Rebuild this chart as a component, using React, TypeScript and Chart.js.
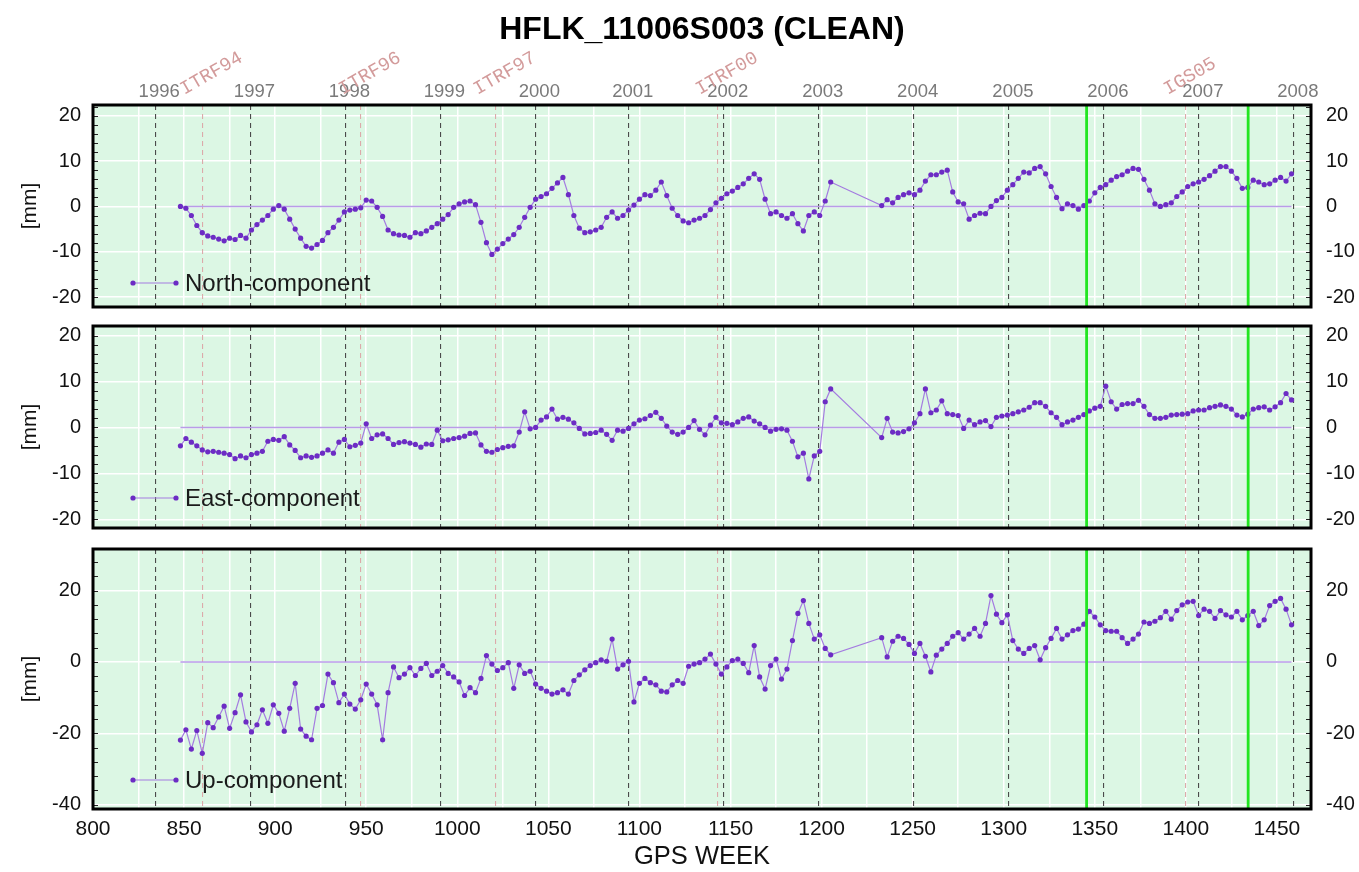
import React, { useEffect, useRef } from 'react';
import { Chart, registerables } from 'chart.js';

Chart.register(...registerables);

// ---------------- data ----------------
const WEEKS = [
  848, 851, 854, 857, 860, 863, 866, 869, 872, 875,
  878, 881, 884, 887, 890, 893, 896, 899, 902, 905,
  908, 911, 914, 917, 920, 923, 926, 929, 932, 935,
  938, 941, 944, 947, 950, 953, 956, 959, 962, 965,
  968, 971, 974, 977, 980, 983, 986, 989, 992, 995,
  998, 1001, 1004, 1007, 1010, 1013, 1016, 1019, 1022, 1025,
  1028, 1031, 1034, 1037, 1040, 1043, 1046, 1049, 1052, 1055,
  1058, 1061, 1064, 1067, 1070, 1073, 1076, 1079, 1082, 1085,
  1088, 1091, 1094, 1097, 1100, 1103, 1106, 1109, 1112, 1115,
  1118, 1121, 1124, 1127, 1130, 1133, 1136, 1139, 1142, 1145,
  1148, 1151, 1154, 1157, 1160, 1163, 1166, 1169, 1172, 1175,
  1178, 1181, 1184, 1187, 1190, 1193, 1196, 1199, 1202, 1205,
  1233, 1236, 1239, 1242, 1245, 1248, 1251, 1254, 1257, 1260,
  1263, 1266, 1269, 1272, 1275, 1278, 1281, 1284, 1287, 1290,
  1293, 1296, 1299, 1302, 1305, 1308, 1311, 1314, 1317, 1320,
  1323, 1326, 1329, 1332, 1335, 1338, 1341, 1344, 1347, 1350,
  1353, 1356, 1359, 1362, 1365, 1368, 1371, 1374, 1377, 1380,
  1383, 1386, 1389, 1392, 1395, 1398, 1401, 1404, 1407, 1410,
  1413, 1416, 1419, 1422, 1425, 1428, 1431, 1434, 1437, 1440,
  1443, 1446, 1449, 1452, 1455, 1458,
];

const NORTH = [
  0.0, -0.4, -2.0, -4.2, -5.8, -6.5, -6.8, -7.2, -7.6, -7.0,
  -7.3, -6.4, -7.0, -5.2, -4.0, -3.0, -2.0, -0.6, 0.2, -0.6,
  -2.8, -5.0, -7.0, -8.8, -9.2, -8.4, -7.5, -5.8, -4.6, -3.0,
  -1.2, -0.8, -0.6, -0.3, 1.4, 1.2, -0.2, -2.2, -5.2, -6.0,
  -6.3, -6.4, -6.8, -5.8, -6.0, -5.4, -4.6, -3.8, -2.8, -1.8,
  -0.2, 0.6, 1.0, 1.2, 0.4, -3.5, -8.0, -10.6, -9.4, -8.2,
  -7.2, -6.2, -4.6, -2.4, -0.2, 1.6, 2.2, 2.8, 4.0, 5.2,
  6.4, 2.6, -2.0, -4.8, -5.8, -5.6, -5.2, -4.6, -2.4, -1.2,
  -2.6, -2.0, -0.8, 0.3, 1.6, 2.6, 2.4, 3.6, 5.4, 2.4,
  -0.4, -2.0, -3.2, -3.6, -3.0, -2.6, -2.0, -0.7, 0.8, 1.8,
  2.8, 3.4, 4.2, 5.0, 6.2, 7.2, 6.0, 1.6, -1.6, -1.2,
  -2.0, -2.6, -1.6, -3.8, -5.4, -2.0, -1.2, -2.0, 1.2, 5.4,
  0.2, 1.5, 0.8, 2.0, 2.6, 3.0, 2.6, 3.6, 5.6, 7.0,
  7.0, 7.6, 8.0, 3.2, 1.0, 0.6, -2.8, -2.0, -1.5, -1.6,
  0.0, 1.3, 2.0, 3.6, 4.8, 6.2, 7.6, 7.4, 8.4, 8.8,
  7.2, 4.4, 2.0, -0.5, 0.6, 0.2, -0.6, 0.2, 1.2, 3.0,
  4.2, 4.8, 5.8, 6.6, 7.0, 7.8, 8.4, 8.2, 6.0, 3.6,
  0.6, 0.0, 0.4, 0.8, 2.2, 3.2, 4.4, 5.0, 5.4, 6.0,
  6.8, 7.8, 8.8, 8.8, 7.8, 6.2, 4.0, 4.2, 5.8, 5.4,
  4.8, 5.0, 5.8, 6.4, 5.6, 7.2,
];

const EAST = [
  -4.0, -2.4, -3.2, -4.0, -4.9, -5.3, -5.2, -5.4, -5.6, -5.9,
  -6.8, -6.2, -6.6, -5.9, -5.6, -5.2, -3.0, -2.6, -2.8, -2.0,
  -3.8, -5.0, -6.6, -6.2, -6.5, -6.2, -5.6, -4.9, -5.6, -3.2,
  -2.6, -4.2, -3.9, -3.4, 0.8, -2.4, -1.6, -1.4, -2.4, -3.7,
  -3.3, -3.1, -3.4, -3.7, -4.3, -3.6, -3.7, -0.6, -2.9, -2.7,
  -2.4, -2.2, -1.9, -1.3, -1.2, -3.8, -5.2, -5.4, -4.8, -4.4,
  -4.1, -4.0, -1.0, 3.4, -0.3, 0.0, 1.6, 2.3, 4.0, 1.8,
  2.2, 1.8, 1.0, -0.2, -1.4, -1.3, -1.1, -0.6, -1.5, -2.8,
  -0.6, -0.8, -0.2, 0.8, 1.6, 1.9, 2.6, 3.3, 2.0, 0.3,
  -1.0, -1.5, -1.0, 0.0, 1.5, -0.4, -1.6, 0.5, 2.2, 1.0,
  0.9, 0.6, 1.2, 2.0, 2.3, 1.4, 0.8, 0.0, -0.8, -0.4,
  -0.3, -0.6, -3.0, -6.4, -5.6, -11.2, -6.2, -5.2, 5.6, 8.4,
  -2.2, 2.0, -1.0, -1.2, -0.9, -0.3, 1.0, 3.0, 8.4, 3.2,
  3.8, 5.8, 3.0, 2.8, 2.6, -0.2, 1.6, 0.6, 1.2, 1.5,
  0.2, 2.2, 2.5, 2.7, 3.0, 3.4, 3.8, 4.4, 5.4, 5.4,
  4.6, 3.2, 2.2, 0.6, 1.2, 1.6, 2.2, 2.8, 3.6, 4.2,
  4.6, 9.0, 5.6, 4.0, 5.0, 5.2, 5.2, 5.9, 4.6, 2.8,
  2.0, 2.0, 2.2, 2.7, 2.8, 2.9, 3.0, 3.6, 3.8, 3.8,
  4.3, 4.6, 4.9, 4.6, 4.0, 2.7, 2.3, 2.9, 4.0, 4.3,
  4.5, 3.8, 4.5, 5.4, 7.4, 6.0,
];

const UP = [
  -21.9, -19.0, -24.4, -19.2, -25.6, -17.0, -18.4, -15.4, -12.4, -18.6,
  -14.2, -9.2, -16.8, -19.6, -17.6, -13.4, -17.2, -12.0, -14.4, -19.4,
  -13.0, -6.0, -18.8, -20.8, -21.8, -13.0, -12.2, -3.4, -5.8, -11.4,
  -9.0, -11.8, -13.2, -10.6, -6.2, -9.0, -12.0, -21.8, -8.6, -1.4,
  -4.4, -3.4, -1.6, -3.8, -1.8, -0.4, -3.8, -2.6, -1.0, -3.2,
  -4.2, -5.6, -9.4, -7.2, -8.6, -4.6, 1.8, -0.6, -2.4, -1.6,
  -0.2, -7.4, -0.8, -3.2, -2.6, -6.2, -7.4, -8.2, -9.0, -8.6,
  -7.8, -9.0, -5.2, -3.6, -2.2, -1.0, -0.2, 0.6, 0.2, 6.4,
  -2.0, -0.8, 0.2, -11.2, -6.0, -4.6, -5.8, -6.4, -8.2, -8.4,
  -6.4, -5.2, -6.0, -1.2, -0.6, -0.2, 0.8, 2.2, -0.6, -3.4,
  -1.4, 0.4, 0.8, -0.4, -3.0, 4.6, -4.2, -7.6, -1.0, 0.8,
  -4.8, -2.0, 6.0, 13.6, 17.2, 10.8, 6.4, 7.6, 3.8, 2.0,
  6.8, 1.4, 5.8, 7.2, 6.6, 4.9, 2.4, 5.2, 1.6, -2.8,
  1.9, 3.6, 5.2, 7.2, 8.2, 6.4, 7.8, 9.4, 7.2, 10.8,
  18.6, 13.4, 11.0, 13.2, 6.0, 3.6, 2.4, 3.8, 4.6, 0.6,
  4.0, 6.6, 9.4, 6.4, 7.6, 8.8, 9.2, 10.6, 14.2, 12.6,
  10.4, 8.8, 8.6, 8.6, 6.8, 5.2, 6.4, 7.8, 11.2, 10.8,
  11.4, 12.4, 14.2, 12.0, 14.4, 16.0, 16.8, 17.0, 13.0, 14.8,
  14.2, 12.2, 14.4, 13.2, 12.6, 14.2, 11.8, 13.0, 14.2, 10.2,
  11.8, 15.8, 17.0, 17.8, 14.8, 10.4,
];

// axis ticks
const X_TICKS = [800, 825, 850, 875, 900, 925, 950, 975, 1000, 1025, 1050, 1075, 1100, 1125, 1150, 1175, 1200, 1225, 1250, 1275, 1300, 1325, 1350, 1375, 1400, 1425, 1450];
const X_LABELED = [800, 850, 900, 950, 1000, 1050, 1100, 1150, 1200, 1250, 1300, 1350, 1400, 1450];
const Y_TICKS_NE = [-20, -10, 0, 10, 20];
const Y_TICKS_UP = [-40, -20, 0, 20];

// start of each calendar year, in GPS weeks
const YEAR_WEEKS = [834.14, 886.43, 938.57, 990.71, 1042.86, 1094.14, 1146.29, 1198.43, 1250.57, 1302.86, 1355.0, 1407.14, 1459.29];
const YEAR_LABELS = ['1996', '1997', '1998', '1999', '2000', '2001', '2002', '2003', '2004', '2005', '2006', '2007', '2008'];
// reference frame changes
const FRAME_WEEKS = [860, 947, 1021, 1143, 1400];
const FRAME_LABELS = ['ITRF94', 'ITRF96', 'ITRF97', 'ITRF00', 'IGS05'];
// equipment change events (green lines)
const EVENT_WEEKS = [1345.5, 1434.2];
// reference (zero) line
const REF_WEEKS = [848, 1458];
const REF_VALUES = [0, 0];

const X_MIN = 800;
const X_MAX = 1468.7;
const TITLE = 'HFLK_11006S003 (CLEAN)';

// ---------------- styling ----------------
const FONT = "'Liberation Sans', Arial, Helvetica, sans-serif";
const MONO = "'Liberation Mono', 'Courier New', monospace";
const BG = '#dcf7e4';
const POINT_COLOR = '#6c2cc4';
const LINE_COLOR = '#a47ce0';
const REF_COLOR = '#b99be8';
const EVENT_COLOR = '#22e622';

type Panel = {
  top: number;
  height: number;
  label: string;
  values: number[];
  yMin: number;
  yMax: number;
  yTicks: number[];
  minorStep: number;
  topSize: number;
  bottomSize: number;
  title: boolean;
  xLabels: boolean;
  legendOffset: number;
};

const PANELS: Panel[] = [
  { top: 0, height: 320, label: 'North-component', values: NORTH, yMin: -22.2, yMax: 22.4, yTicks: Y_TICKS_NE, minorStep: 2, topSize: 105, bottomSize: 13, title: true, xLabels: false, legendOffset: 24 },
  { top: 320, height: 218, label: 'East-component', values: EAST, yMin: -21.9, yMax: 22.1, yTicks: Y_TICKS_NE, minorStep: 2, topSize: 6, bottomSize: 10, title: false, xLabels: false, legendOffset: 30 },
  { top: 538, height: 334, label: 'Up-component', values: UP, yMin: -41.2, yMax: 31.65, yTicks: Y_TICKS_UP, minorStep: 4, topSize: 11, bottomSize: 63, title: false, xLabels: true, legendOffset: 29 },
];

const TITLE_SIZE = 32;
const TITLE_PAD_TOP = 10.8;
const TITLE_HEIGHT = TITLE_SIZE * 1.2 + TITLE_PAD_TOP;

const panelFrame = {
  id: 'panelFrame',
  beforeDraw(chart: any) {
    const { ctx, chartArea: a } = chart;
    ctx.save();
    ctx.fillStyle = BG;
    ctx.fillRect(a.left, a.top, a.right - a.left, a.bottom - a.top);
    ctx.restore();
  },
  afterDraw(chart: any, _args: any, opts: any) {
    const { ctx, chartArea: a } = chart;
    const ys = chart.scales.y;
    ctx.save();
    // minor ticks on left/right borders
    ctx.strokeStyle = '#222';
    ctx.lineWidth = 1;
    ctx.beginPath();
    const start = Math.ceil(ys.min / opts.minorStep) * opts.minorStep;
    for (let v = start; v <= ys.max; v += opts.minorStep) {
      const y = Math.round(ys.getPixelForValue(v)) + 0.5;
      ctx.moveTo(a.left, y);
      ctx.lineTo(a.left + 5, y);
      ctx.moveTo(a.right - 5, y);
      ctx.lineTo(a.right, y);
    }
    ctx.stroke();
    ctx.strokeStyle = '#000';
    ctx.lineWidth = 3;
    ctx.strokeRect(a.left, a.top, a.right - a.left, a.bottom - a.top);
    ctx.restore();
  },
};

const frameLabels = {
  id: 'frameLabels',
  afterDraw(chart: any, _args: any, opts: any) {
    if (!opts.show) return;
    const { ctx, chartArea: a } = chart;
    const scale = chart.scales.frames;
    ctx.save();
    ctx.fillStyle = '#d39b9b';
    ctx.font = `19px ${MONO}`;
    ctx.textAlign = 'left';
    ctx.textBaseline = 'alphabetic';
    FRAME_WEEKS.forEach((w, i) => {
      const x = scale.getPixelForValue(w);
      ctx.save();
      ctx.translate(x - 18, a.top - 10);
      ctx.rotate(-Math.PI / 6);
      ctx.fillText(FRAME_LABELS[i], 0, 0);
      ctx.restore();
    });
    ctx.restore();
  },
};

const panelLegend = {
  id: 'panelLegend',
  afterDraw(chart: any, _args: any, opts: any) {
    const ds = chart.data.datasets.find((d: any) => d.label === opts.text);
    if (!ds) return;
    const { ctx, chartArea: a } = chart;
    const y = a.bottom - opts.offset;
    const x1 = a.left + 40;
    const x2 = a.left + 83;
    ctx.save();
    ctx.strokeStyle = ds.borderColor;
    ctx.lineWidth = ds.borderWidth;
    ctx.beginPath();
    ctx.moveTo(x1, y);
    ctx.lineTo(x2, y);
    ctx.stroke();
    ctx.fillStyle = ds.pointBackgroundColor;
    [x1, x2].forEach((x) => {
      ctx.beginPath();
      ctx.arc(x, y, ds.pointRadius, 0, Math.PI * 2);
      ctx.fill();
    });
    ctx.fillStyle = '#1a1a1a';
    ctx.font = `24px ${FONT}`;
    ctx.textBaseline = 'middle';
    ctx.textAlign = 'left';
    ctx.fillText(opts.text, a.left + 92, y + 1);
    ctx.restore();
  },
};

const noPadH = (s: any) => {
  s.paddingLeft = 0;
  s.paddingRight = 0;
};
const noPadV = (s: any) => {
  s.paddingTop = 0;
  s.paddingBottom = 0;
};

function buildConfig(p: Panel): any {
  const datasets: any[] = [];
  EVENT_WEEKS.forEach((w) => {
    datasets.push({
      label: 'event',
      data: [{ x: w, y: -1000 }, { x: w, y: 1000 }],
      borderColor: EVENT_COLOR,
      borderWidth: 2.8,
      pointRadius: 0,
    });
  });
  datasets.push({
    label: p.label,
    data: WEEKS.map((w, i) => ({ x: w, y: p.values[i] })),
    borderColor: LINE_COLOR,
    borderWidth: 1.2,
    pointRadius: 2.6,
    pointBackgroundColor: POINT_COLOR,
    pointBorderWidth: 0,
  });
  datasets.push({
    label: 'reference',
    data: REF_WEEKS.map((w, i) => ({ x: w, y: REF_VALUES[i] })),
    borderColor: REF_COLOR,
    borderWidth: 1.5,
    pointRadius: 0,
  });

  const topAxisHeight = p.topSize - (p.title ? TITLE_HEIGHT : 0);

  return {
    type: 'line',
    data: { datasets },
    plugins: [panelFrame, panelLegend, frameLabels],
    options: {
      responsive: false,
      animation: false,
      events: [],
      layout: { padding: 0 },
      plugins: {
        legend: { display: false },
        tooltip: { enabled: false },
        title: p.title
          ? {
              display: true,
              fullSize: false,
              text: TITLE,
              color: '#000',
              font: { family: FONT, size: TITLE_SIZE, weight: 'bold', lineHeight: 1.2 },
              padding: { top: TITLE_PAD_TOP, bottom: 0 },
            }
          : { display: false },
        panelLegend: { text: p.label, offset: p.legendOffset },
        frameLabels: { show: p.title },
        panelFrame: { minorStep: p.minorStep },
      },
      scales: {
        x: {
          type: 'linear',
          position: 'bottom',
          min: X_MIN,
          max: X_MAX,
          bounds: 'data',
          grid: { color: '#ffffff', lineWidth: 1.5, drawTicks: false, z: -3 },
          border: { display: false },
          afterBuildTicks: (s: any) => {
            s.ticks = X_TICKS.map((value) => ({ value }));
          },
          ticks: {
            display: p.xLabels,
            autoSkip: false,
            minRotation: 0,
            maxRotation: 0,
            padding: 8,
            color: '#111',
            font: { family: FONT, size: 21 },
            callback: (v: number) => (X_LABELED.includes(v) ? String(v) : ''),
          },
          title: {
            display: p.xLabels,
            text: 'GPS WEEK',
            color: '#111',
            font: { family: FONT, size: 25.5, lineHeight: 1.2 },
            padding: { top: 0, bottom: 0 },
          },
          afterFit: (s: any) => {
            s.height = p.bottomSize;
            noPadH(s);
          },
        },
        years: {
          type: 'linear',
          position: 'top',
          weight: 0,
          min: X_MIN,
          max: X_MAX,
          bounds: 'data',
          grid: { color: '#4a4a4a', lineWidth: 1.1, drawTicks: false, z: -2 },
          border: { display: false, dash: [5, 4] },
          afterBuildTicks: (s: any) => {
            s.ticks = YEAR_WEEKS.map((value) => ({ value }));
          },
          ticks: {
            display: p.title,
            autoSkip: false,
            minRotation: 0,
            maxRotation: 0,
            padding: 2,
            labelOffset: 4,
            color: '#7a7a7a',
            font: { family: FONT, size: 18.5 },
            callback: (_v: number, i: number) => YEAR_LABELS[i],
          },
          afterFit: (s: any) => {
            s.height = topAxisHeight;
            noPadH(s);
          },
        },
        frames: {
          type: 'linear',
          position: 'top',
          weight: -1,
          min: X_MIN,
          max: X_MAX,
          bounds: 'data',
          grid: { color: '#dcaaaa', lineWidth: 1.1, drawTicks: false, z: -1 },
          border: { display: false, dash: [5, 4] },
          afterBuildTicks: (s: any) => {
            s.ticks = FRAME_WEEKS.map((value) => ({ value }));
          },
          ticks: { display: false },
          afterFit: (s: any) => {
            s.height = 0;
            noPadH(s);
          },
        },
        y: {
          type: 'linear',
          position: 'left',
          min: p.yMin,
          max: p.yMax,
          bounds: 'data',
          grid: { color: '#ffffff', lineWidth: 1.5, drawTicks: false, z: -3 },
          border: { display: false },
          afterBuildTicks: (s: any) => {
            s.ticks = p.yTicks.map((value) => ({ value }));
          },
          ticks: {
            autoSkip: false,
            padding: 12,
            color: '#111',
            font: { family: FONT, size: 20 },
          },
          title: {
            display: true,
            text: '[mm]',
            color: '#111',
            font: { family: FONT, size: 21, lineHeight: 1.2 },
            padding: { top: 17.4, bottom: 0 },
          },
          afterFit: (s: any) => {
            s.width = 93;
            noPadV(s);
          },
        },
        y2: {
          type: 'linear',
          position: 'right',
          min: p.yMin,
          max: p.yMax,
          bounds: 'data',
          grid: { display: false },
          border: { display: false },
          afterBuildTicks: (s: any) => {
            s.ticks = p.yTicks.map((value) => ({ value }));
          },
          ticks: {
            autoSkip: false,
            padding: 7,
            color: '#111',
            font: { family: FONT, size: 20 },
          },
          afterFit: (s: any) => {
            s.width = 48;
            noPadV(s);
          },
        },
      },
    },
  };
}

export default function App() {
  const r0 = useRef<HTMLCanvasElement | null>(null);
  const r1 = useRef<HTMLCanvasElement | null>(null);
  const r2 = useRef<HTMLCanvasElement | null>(null);
  const refs = [r0, r1, r2];

  useEffect(() => {
    const charts = PANELS.map((p, i) => new Chart(refs[i].current as HTMLCanvasElement, buildConfig(p)));
    return () => charts.forEach((c) => c.destroy());
  }, []);

  return (
    <div style={{ position: 'absolute', left: 0, top: 0, width: 1359, height: 872, background: '#ffffff' }}>
      {PANELS.map((p, i) => (
        <canvas
          key={i}
          ref={refs[i]}
          width={1359}
          height={p.height}
          style={{ position: 'absolute', left: 0, top: p.top, width: 1359, height: p.height }}
        />
      ))}
    </div>
  );
}
